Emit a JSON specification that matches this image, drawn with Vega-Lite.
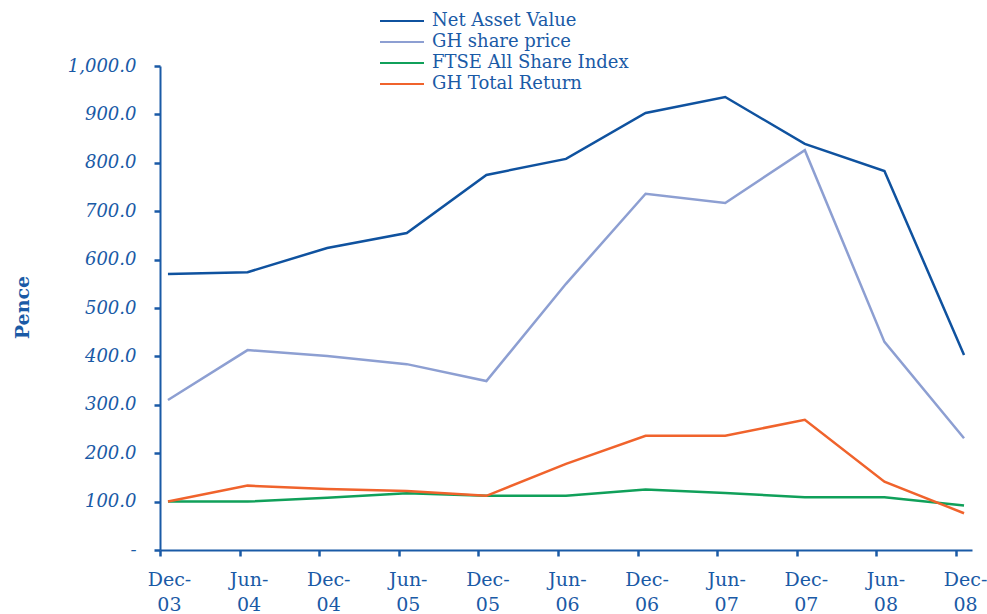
{
  "$schema": "https://vega.github.io/schema/vega-lite/v6.json",
  "autosize": "none",
  "width": 812,
  "height": 484,
  "padding": {"left": 160, "top": 66, "right": 15, "bottom": 64},
  "background": "white",
  "config": {
    "view": {"stroke": null},
    "font": "DejaVu Serif"
  },
  "data": {
    "values": [
      {"period": "Dec-03", "series": "Net Asset Value", "pence": 570},
      {"period": "Jun-04", "series": "Net Asset Value", "pence": 574},
      {"period": "Dec-04", "series": "Net Asset Value", "pence": 624},
      {"period": "Jun-05", "series": "Net Asset Value", "pence": 655},
      {"period": "Dec-05", "series": "Net Asset Value", "pence": 775},
      {"period": "Jun-06", "series": "Net Asset Value", "pence": 808},
      {"period": "Dec-06", "series": "Net Asset Value", "pence": 903},
      {"period": "Jun-07", "series": "Net Asset Value", "pence": 936},
      {"period": "Dec-07", "series": "Net Asset Value", "pence": 839},
      {"period": "Jun-08", "series": "Net Asset Value", "pence": 783},
      {"period": "Dec-08", "series": "Net Asset Value", "pence": 403},
      {"period": "Dec-03", "series": "GH share price", "pence": 310},
      {"period": "Jun-04", "series": "GH share price", "pence": 413},
      {"period": "Dec-04", "series": "GH share price", "pence": 401},
      {"period": "Jun-05", "series": "GH share price", "pence": 384},
      {"period": "Dec-05", "series": "GH share price", "pence": 349},
      {"period": "Jun-06", "series": "GH share price", "pence": 550},
      {"period": "Dec-06", "series": "GH share price", "pence": 736},
      {"period": "Jun-07", "series": "GH share price", "pence": 717},
      {"period": "Dec-07", "series": "GH share price", "pence": 826},
      {"period": "Jun-08", "series": "GH share price", "pence": 430},
      {"period": "Dec-08", "series": "GH share price", "pence": 231},
      {"period": "Dec-03", "series": "FTSE All Share Index", "pence": 100},
      {"period": "Jun-04", "series": "FTSE All Share Index", "pence": 100},
      {"period": "Dec-04", "series": "FTSE All Share Index", "pence": 108},
      {"period": "Jun-05", "series": "FTSE All Share Index", "pence": 117},
      {"period": "Dec-05", "series": "FTSE All Share Index", "pence": 112},
      {"period": "Jun-06", "series": "FTSE All Share Index", "pence": 112},
      {"period": "Dec-06", "series": "FTSE All Share Index", "pence": 125},
      {"period": "Jun-07", "series": "FTSE All Share Index", "pence": 118},
      {"period": "Dec-07", "series": "FTSE All Share Index", "pence": 109},
      {"period": "Jun-08", "series": "FTSE All Share Index", "pence": 109},
      {"period": "Dec-08", "series": "FTSE All Share Index", "pence": 92},
      {"period": "Dec-03", "series": "GH Total Return", "pence": 100},
      {"period": "Jun-04", "series": "GH Total Return", "pence": 133},
      {"period": "Dec-04", "series": "GH Total Return", "pence": 126},
      {"period": "Jun-05", "series": "GH Total Return", "pence": 122},
      {"period": "Dec-05", "series": "GH Total Return", "pence": 112},
      {"period": "Jun-06", "series": "GH Total Return", "pence": 178},
      {"period": "Dec-06", "series": "GH Total Return", "pence": 236},
      {"period": "Jun-07", "series": "GH Total Return", "pence": 236},
      {"period": "Dec-07", "series": "GH Total Return", "pence": 269},
      {"period": "Jun-08", "series": "GH Total Return", "pence": 141},
      {"period": "Dec-08", "series": "GH Total Return", "pence": 76}
    ]
  },
  "mark": {"type": "line", "strokeWidth": 2.5},
  "encoding": {
    "x": {
      "field": "period",
      "type": "ordinal",
      "sort": null,
      "scale": {"type": "point", "padding": 0.1},
      "axis": {
        "title": null,
        "labelAngle": 0,
        "labelExpr": "[slice(datum.value, 0, 4), slice(datum.value, 4)]",
        "labelFont": "DejaVu Serif",
        "labelFontSize": 19,
        "labelColor": "#1a5aa6",
        "labelLineHeight": 25,
        "labelPadding": 14,
        "labelOffset": 9,
        "tickOffset": -8,
        "domainColor": "#1a5aa6",
        "domainWidth": 2,
        "tickColor": "#1a5aa6",
        "tickWidth": 2.5,
        "tickSize": 6,
        "grid": false
      }
    },
    "y": {
      "field": "pence",
      "type": "quantitative",
      "scale": {"domain": [0, 1000], "nice": false, "zero": true},
      "axis": {
        "title": "Pence",
        "titleFont": "DejaVu Serif",
        "titleFontSize": 19,
        "titleFontWeight": "bold",
        "titleColor": "#1a5aa6",
        "titleAngle": -90,
        "titleX": -138,
        "titleY": 241,
        "titleAlign": "center",
        "titleBaseline": "middle",
        "values": [0, 100, 200, 300, 400, 500, 600, 700, 800, 900, 1000],
        "labelExpr": "datum.value == 0 ? '-' : format(datum.value, ',.1f')",
        "labelFont": "DejaVu Serif",
        "labelFontStyle": "italic",
        "labelFontSize": 18,
        "labelColor": "#1a5aa6",
        "labelPadding": 18,
        "domainColor": "#1a5aa6",
        "domainWidth": 2,
        "tickColor": "#1a5aa6",
        "tickWidth": 2.5,
        "tickSize": 6,
        "grid": false
      }
    },
    "color": {
      "field": "series",
      "type": "nominal",
      "sort": null,
      "scale": {
        "domain": ["Net Asset Value", "GH share price", "FTSE All Share Index", "GH Total Return"],
        "range": ["#0f529f", "#8d9fd2", "#10a05a", "#f0632c"]
      },
      "legend": {
        "title": null,
        "orient": "none",
        "legendX": 230,
        "legendY": -57,
        "symbolType": "M-2,0H2",
        "symbolSize": 484,
        "symbolStrokeWidth": 2,
        "labelFont": "DejaVu Serif",
        "labelFontSize": 18,
        "labelColor": "#1a5aa6",
        "labelOffset": 18,
        "labelLimit": 400,
        "rowPadding": 0,
        "padding": 0
      }
    }
  }
}
